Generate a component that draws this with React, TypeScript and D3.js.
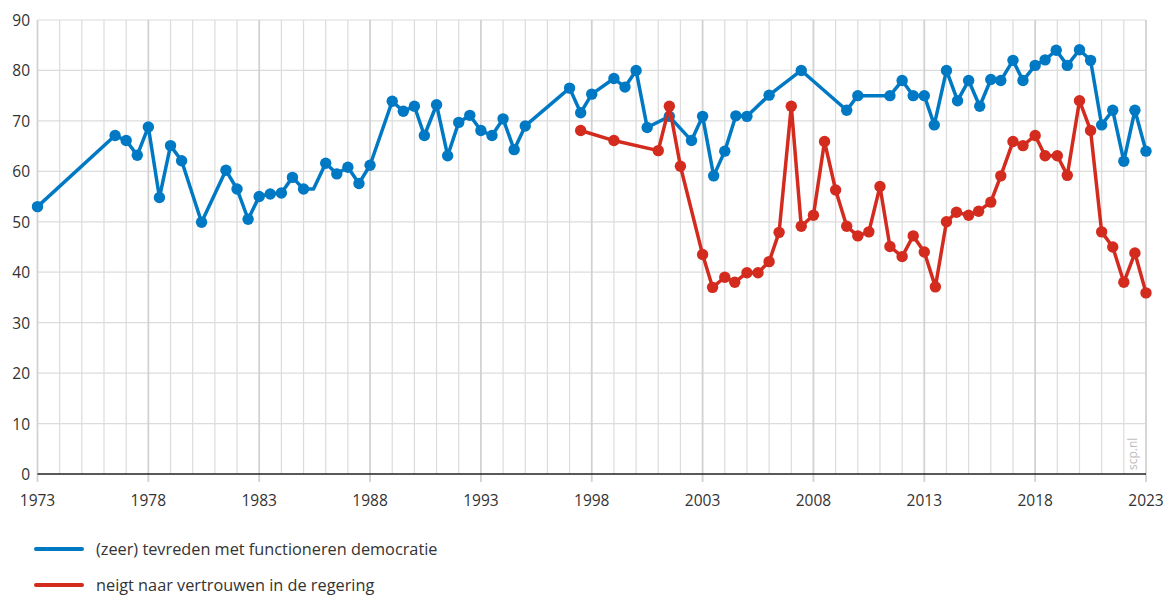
import * as d3 from 'd3';

// (zeer) tevreden met functioneren democratie
const blueYears = [
  1973.0, 1976.5, 1977.0, 1977.5, 1978.0, 1978.5, 1979.0, 1979.5, 1980.4, 1981.5,
  1982.0, 1982.5, 1983.0, 1983.5, 1984.0, 1984.5, 1985.0, 1985.45, 1986.0, 1986.5,
  1987.0, 1987.5, 1988.0, 1989.0, 1989.5, 1990.0, 1990.45, 1991.0, 1991.5, 1992.0,
  1992.5, 1993.0, 1993.5, 1994.0, 1994.5, 1995.0, 1997.0, 1997.5, 1998.0, 1999.0,
  1999.5, 2000.0, 2000.5, 2001.5, 2002.5, 2003.0, 2003.5, 2004.0, 2004.5, 2005.0,
  2006.0, 2007.45, 2009.5, 2010.0, 2011.45, 2012.0, 2012.5, 2013.0, 2013.45, 2014.0,
  2014.5, 2015.0, 2015.5, 2016.0, 2016.45, 2017.0, 2017.45, 2018.0, 2018.45, 2018.95,
  2019.45, 2020.0, 2020.5, 2021.0, 2021.5, 2022.0, 2022.5, 2023.0,
];
const blueValues = [
  53.0, 67.1, 66.1, 63.2, 68.8, 54.8, 65.1, 62.1, 49.9, 60.2,
  56.5, 50.5, 55.0, 55.5, 55.7, 58.8, 56.5, 56.5, 61.6, 59.5,
  60.8, 57.6, 61.2, 73.9, 71.9, 72.9, 67.1, 73.2, 63.1, 69.7,
  71.1, 68.1, 67.1, 70.4, 64.3, 69.0, 76.5, 71.6, 75.3, 78.4,
  76.7, 80.0, 68.7, 70.9, 66.1, 70.9, 59.1, 64.0, 71.0, 70.9,
  75.1, 80.0, 72.1, 75.0, 75.0, 78.0, 75.0, 75.0, 69.2, 80.0,
  74.0, 78.0, 72.9, 78.2, 78.0, 82.0, 78.0, 81.0, 82.1, 84.0,
  81.0, 84.1, 82.0, 69.2, 72.1, 62.0, 72.1, 64.0,
];
// punt zonder marker (knik in de lijn)
const blueNoMarker = [1985.45];

// neigt naar vertrouwen in de regering
const redYears = [
  1997.5, 1999.0, 2001.0, 2001.5, 2002.0, 2003.0, 2003.45, 2004.0, 2004.45, 2005.0,
  2005.5, 2006.0, 2006.45, 2007.0, 2007.45, 2008.0, 2008.5, 2009.0, 2009.5, 2010.0,
  2010.5, 2011.0, 2011.45, 2012.0, 2012.5, 2013.0, 2013.5, 2014.0, 2014.45, 2015.0,
  2015.45, 2016.0, 2016.45, 2017.0, 2017.45, 2018.0, 2018.45, 2019.0, 2019.45, 2020.0,
  2020.5, 2021.0, 2021.5, 2022.0, 2022.5, 2023.0,
];
const redValues = [
  68.1, 66.1, 64.1, 72.9, 61.0, 43.5, 37.0, 39.0, 38.0, 39.9,
  39.9, 42.1, 47.9, 72.9, 49.1, 51.3, 65.9, 56.3, 49.1, 47.2,
  48.0, 57.0, 45.1, 43.1, 47.2, 44.0, 37.1, 50.0, 51.9, 51.3,
  52.1, 53.9, 59.1, 65.9, 65.1, 67.1, 63.1, 63.1, 59.2, 74.0,
  68.1, 48.0, 45.0, 38.0, 43.8, 35.9,
];

const xLabels = [1973, 1978, 1983, 1988, 1993, 1998, 2003, 2008, 2013, 2018, 2023];
const yTicks = [0, 10, 20, 30, 40, 50, 60, 70, 80, 90];

const legendItems = [
  { label: '(zeer) tevreden met functioneren democratie', color: '#0079c4' },
  { label: 'neigt naar vertrouwen in de regering', color: '#d42b1f' },
];

const BLUE = '#0079c4';
const RED = '#d42b1f';
const FONT = "'Open Sans', 'Noto Sans', sans-serif";

export default function App() {
  const width = 1167;
  const height = 596;

  const x = d3.scaleLinear().domain([1973, 2023]).range([37.5, 1146]);
  const y = d3.scaleLinear().domain([0, 90]).range([474, 20]);

  const years = d3.range(1973, 2024);

  const line = d3
    .line<[number, number]>()
    .x((d) => x(d[0]))
    .y((d) => y(d[1]));

  const blue: [number, number][] = blueYears.map((yr, i) => [yr, blueValues[i]]);
  const red: [number, number][] = redYears.map((yr, i) => [yr, redValues[i]]);

  return (
    <div style={{ position: 'absolute', left: 0, top: 0 }}>
      <svg width={width} height={height} style={{ display: 'block', background: '#fff' }}>
        {/* horizontal grid */}
        {yTicks.slice(1).map((t) => (
          <line key={'h' + t} x1={x(1973)} x2={x(2023)} y1={y(t)} y2={y(t)} stroke="#dcdcdc" strokeWidth={1.2} />
        ))}
        {/* vertical grid */}
        {years.map((yr) => {
          const major = (yr - 1973) % 5 === 0;
          return (
            <line
              key={'v' + yr}
              x1={x(yr)}
              x2={x(yr)}
              y1={y(90)}
              y2={major ? y(0) + 8 : y(0)}
              stroke={major ? '#d2d2d2' : '#dcdcdc'}
              strokeWidth={major ? 1.8 : 1.2}
            />
          );
        })}
        {/* zero axis */}
        <line x1={x(1973)} x2={x(2023)} y1={y(0)} y2={y(0)} stroke="#222" strokeWidth={1.5} />

        {/* y labels */}
        {yTicks.map((t) => (
          <text
            key={'yl' + t}
            x={30}
            y={y(t)}
            textAnchor="end"
            dominantBaseline="central"
            fontFamily={FONT}
            fontSize={15.5}
            fill="#333"
          >
            {t}
          </text>
        ))}
        {/* x labels */}
        {xLabels.map((yr) => (
          <text key={'xl' + yr} x={x(yr)} y={506} textAnchor="middle" fontFamily={FONT} fontSize={15.5} fill="#333">
            {yr}
          </text>
        ))}

        {/* watermark */}
        <text
          transform={`translate(${x(2022) + 13},${y(0) - 4}) rotate(-90)`}
          fontFamily={FONT}
          fontSize={12}
          fill="#bdbdbd"
        >
          scp.nl
        </text>

        {/* series */}
        <path d={line(blue) || ''} fill="none" stroke={BLUE} strokeWidth={3.5} strokeLinejoin="round" />
        {blue
          .filter((d) => !blueNoMarker.includes(d[0]))
          .map((d, i) => (
            <circle key={'b' + i} cx={x(d[0])} cy={y(d[1])} r={5.7} fill={BLUE} />
          ))}
        <path d={line(red) || ''} fill="none" stroke={RED} strokeWidth={3.5} strokeLinejoin="round" />
        {red.map((d, i) => (
          <circle key={'r' + i} cx={x(d[0])} cy={y(d[1])} r={5.7} fill={RED} />
        ))}

        {/* legend */}
        {legendItems.map((item, i) => {
          const ly = 549 + i * 36;
          return (
            <g key={'lg' + i}>
              <line x1={36} x2={82} y1={ly} y2={ly} stroke={item.color} strokeWidth={4} strokeLinecap="round" />
              <text x={96} y={ly} dominantBaseline="central" fontFamily={FONT} fontSize={16.3} fill="#333">
                {item.label}
              </text>
            </g>
          );
        })}
      </svg>
    </div>
  );
}
